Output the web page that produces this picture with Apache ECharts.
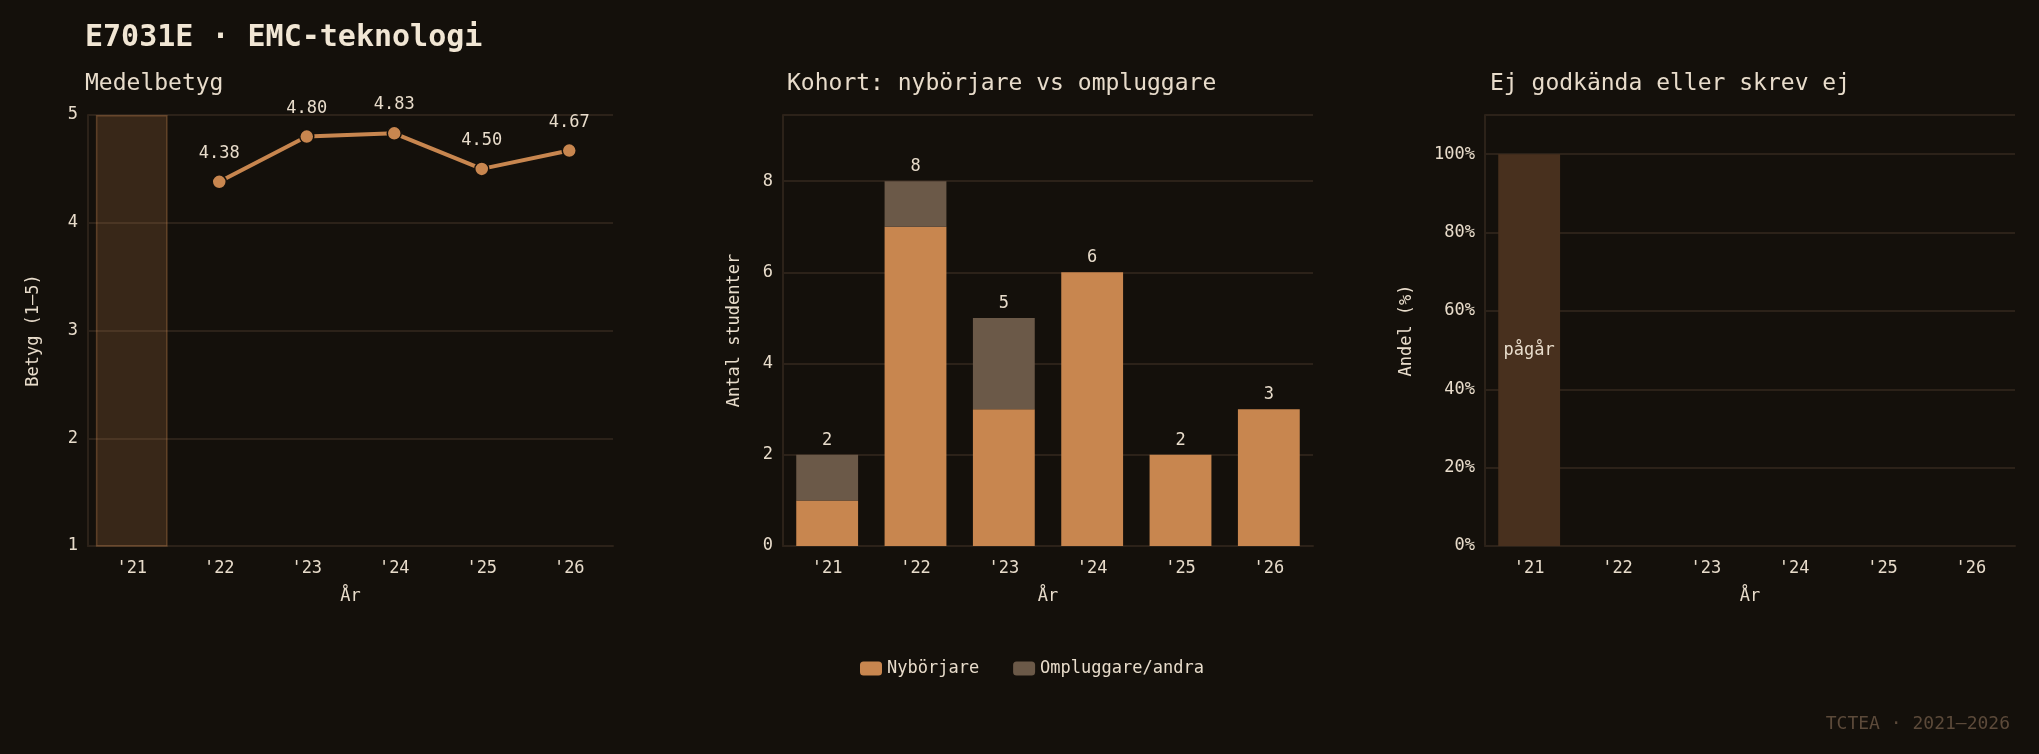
<!DOCTYPE html>
<html>
<head>
<meta charset="utf-8">
<script src="https://cdn.jsdelivr.net/npm/echarts@6/dist/echarts.min.js"></script>
<style>
html,body{margin:0;padding:0;background:#14100b;}
#main{width:2039px;height:754px;}
</style>
</head>
<body>
<div id="main"></div>
<script>
var years = ["'21", "'22", "'23", "'24", "'25", "'26"];
var medel = [null, 4.38, 4.80, 4.83, 4.50, 4.67];
var pagarBand = [5, null, null, null, null, null];
var nyborjare = [1, 7, 3, 6, 2, 3];
var ompluggare = [1, 1, 2, 0, 0, 0];
var totalt = [2, 8, 5, 6, 2, 3];
var ejGodkanda = [100, null, null, null, null, null];

var font = "DejaVu Sans Mono";
var txt = "#e8dccb";
var gridLine = "#2c2219";
var orange = "#c8864f";
var grey = "#6b5948";

function xAx(i) {
    return {
        type: 'category', gridIndex: i, data: years,
        name: 'År', nameLocation: 'middle', nameGap: 42,
        nameTextStyle: {color: txt, fontSize: 17, fontFamily: font},
        axisLine: {lineStyle: {color: gridLine, width: 2}},
        axisTick: {show: false},
        axisLabel: {color: txt, fontSize: 17, fontFamily: font, margin: 14}
    };
}
function yAx(i, opt) {
    var a = {
        type: 'value', gridIndex: i,
        nameLocation: 'middle',
        nameTextStyle: {color: txt, fontSize: 17, fontFamily: font},
        axisLine: {show: true, lineStyle: {color: gridLine, width: 2}},
        axisTick: {show: false},
        splitLine: {lineStyle: {color: gridLine, width: 2}},
        axisLabel: {color: txt, fontSize: 17, fontFamily: font, margin: 10}
    };
    for (var k in opt) a[k] = opt[k];
    return a;
}

var myChart = echarts.init(document.getElementById('main'));
var option = {
    backgroundColor: '#14100b',
    textStyle: {fontFamily: font},
    title: [
        {text: 'E7031E · EMC-teknologi', left: 80, top: 18,
            textStyle: {color: '#f1e6d4', fontSize: 30, fontWeight: 'bold', fontFamily: font}},
        {text: 'Medelbetyg', left: 80, top: 68,
            textStyle: {color: txt, fontSize: 23, fontWeight: 'normal', fontFamily: font}},
        {text: 'Kohort: nybörjare vs ompluggare', left: 782, top: 68,
            textStyle: {color: txt, fontSize: 23, fontWeight: 'normal', fontFamily: font}},
        {text: 'Ej godkända eller skrev ej', left: 1485, top: 68,
            textStyle: {color: txt, fontSize: 23, fontWeight: 'normal', fontFamily: font}},
        {text: 'TCTEA · 2021–2026', right: 24, top: 710,
            textStyle: {color: '#5c4a3a', fontSize: 18, fontWeight: 'normal', fontFamily: font}}
    ],
    legend: {
        data: ['Nybörjare', 'Ompluggare/andra'],
        left: 'center', top: 655, left: 855,
        itemWidth: 22, itemHeight: 14, itemGap: 34,
        textStyle: {color: txt, fontSize: 17, fontFamily: font}
    },
    grid: [
        {left: 88, right: 2039 - 613, top: 115, bottom: 754 - 546},
        {left: 783, right: 2039 - 1313, top: 115, bottom: 754 - 546},
        {left: 1485, right: 2039 - 2015, top: 115, bottom: 754 - 546}
    ],
    xAxis: [xAx(0), xAx(1), xAx(2)],
    yAxis: [
        yAx(0, {min: 1, max: 5, interval: 1, name: 'Betyg (1–5)', nameGap: 46}),
        yAx(1, {min: 0, max: 9.45, interval: 2, name: 'Antal studenter', nameGap: 40,
            axisLabel: {color: txt, fontSize: 17, fontFamily: font, margin: 10,
                formatter: function (v) { return v % 2 === 0 ? v : ''; }}}),
        yAx(2, {min: 0, max: 110, interval: 20, name: 'Andel (%)', nameGap: 70,
            axisLabel: {color: txt, fontSize: 17, fontFamily: font, margin: 10,
                formatter: function (v) { return v <= 100 ? v + '%' : ''; }}})
    ],
    series: [
        {
            name: 'pågår', type: 'bar', xAxisIndex: 0, yAxisIndex: 0,
            data: pagarBand, barWidth: '82%', silent: true,
            itemStyle: {color: 'rgba(200,134,79,0.2)', borderColor: 'rgba(200,134,79,0.35)', borderWidth: 1.5}
        },
        {
            name: 'Medelbetyg', type: 'line', xAxisIndex: 0, yAxisIndex: 0,
            data: medel, symbol: 'circle', symbolSize: 14,
            lineStyle: {color: orange, width: 4},
            itemStyle: {color: orange, borderColor: '#14100b', borderWidth: 1.5},
            label: {show: true, position: 'top', distance: 12, color: txt, fontSize: 17, fontFamily: font,
                formatter: function (p) { return p.value.toFixed(2); }}
        },
        {
            name: 'Nybörjare', type: 'bar', xAxisIndex: 1, yAxisIndex: 1, stack: 'k',
            data: nyborjare, barWidth: '70%', itemStyle: {color: orange}
        },
        {
            name: 'Ompluggare/andra', type: 'bar', xAxisIndex: 1, yAxisIndex: 1, stack: 'k',
            data: ompluggare, barWidth: '70%', itemStyle: {color: grey},
            label: {show: true, position: 'top', distance: 6, color: txt, fontSize: 17, fontFamily: font,
                formatter: function (p) { return totalt[p.dataIndex]; }}
        },
        {
            name: 'Ej godkända', type: 'bar', xAxisIndex: 2, yAxisIndex: 2,
            data: ejGodkanda, barWidth: '70%', itemStyle: {color: '#48301e'},
            label: {show: true, position: 'inside', color: txt, fontSize: 17, fontFamily: font,
                formatter: 'pågår'}
        }
    ]
};
myChart.setOption(option);
</script>
</body>
</html>
